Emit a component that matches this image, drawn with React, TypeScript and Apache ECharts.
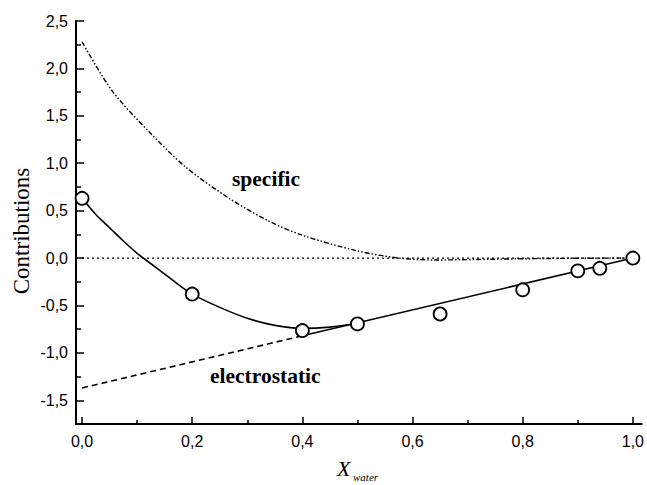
import React, { useEffect, useRef } from "react";
import * as echarts from "echarts";

// Measured points (total contribution)
const pointsX = [0.0, 0.2, 0.4, 0.5, 0.65, 0.8, 0.9, 0.94, 1.0];
const pointsY = [0.63, -0.38, -0.765, -0.695, -0.59, -0.335, -0.135, -0.108, 0.0];

// Fitted total curve (solid, curved part; joins the electrostatic line near 0.5)
const totalX = [0.0, 0.025, 0.05, 0.075, 0.1, 0.125, 0.15, 0.175, 0.2, 0.25, 0.3, 0.35, 0.4, 0.45, 0.5];
const totalY = [0.63, 0.46, 0.32, 0.18, 0.05, -0.06, -0.17, -0.28, -0.38, -0.52, -0.635, -0.71, -0.742, -0.728, -0.69];

// Electrostatic contribution (straight line), dashed part and solid part
const electroDashX = [0.0, 0.4];
const electroDashY = [-1.37, -0.82];
const electroSolidX = [0.4, 1.0];
const electroSolidY = [-0.82, 0.0];

// Specific contribution (dash-dot)
const specificX = [0.0, 0.055, 0.122, 0.188, 0.267, 0.339, 0.4, 0.5, 0.575, 0.64, 0.75, 0.85, 1.0];
const specificY = [2.28, 1.76, 1.33, 0.96, 0.63, 0.39, 0.24, 0.075, 0.0, -0.02, -0.012, -0.004, 0.0];

// Zero reference line
const zeroX = [0.0, 1.0];
const zeroY = [0.0, 0.0];

const xMajor = [0.0, 0.2, 0.4, 0.6, 0.8, 1.0];
const xMinor = [0.1, 0.3, 0.5, 0.7, 0.9];
const yMajor = [-1.5, -1.0, -0.5, 0.0, 0.5, 1.0, 1.5, 2.0, 2.5];
const yMinor = [-1.75, -1.25, -0.75, -0.25, 0.25, 0.75, 1.25, 1.75, 2.25];

const zip = (xs: number[], ys: number[]) => xs.map((x, i) => [x, ys[i]]);
const fmt = (v: number) => (Math.abs(v) < 1e-9 ? 0 : v).toFixed(1).replace(".", ",");

export default function App() {
  const ref = useRef<HTMLDivElement>(null);
  useEffect(() => {
    if (!ref.current) return;
    const chart = echarts.init(ref.current, undefined, { renderer: "svg" });
    const axisBase = {
      type: "value" as const,
      min: -0.011,
      max: 1.016,
      splitLine: { show: false },
    };
    const yBase = {
      type: "value" as const,
      min: -1.75,
      max: 2.5,
      splitLine: { show: false },
    };
    chart.setOption({
      animation: false,
      backgroundColor: "#ffffff",
      grid: { left: 76, top: 21, right: 4, bottom: 61, containLabel: false },
      xAxis: [
        {
          ...axisBase,
          position: "bottom",
          axisLine: { show: true, onZero: false, lineStyle: { color: "#000", width: 2 } },
          axisTick: { show: true, inside: true, length: 7, customValues: xMajor, lineStyle: { color: "#000", width: 1.5 } },
          axisLabel: {
            show: true,
            customValues: xMajor,
            formatter: (v: number) => fmt(v),
            color: "#000",
            fontFamily: "Liberation Sans",
            fontSize: 16,
            margin: 9,
          },
        },
        {
          ...axisBase,
          position: "bottom",
          offset: 0,
          axisLine: { show: false, onZero: false },
          axisTick: { show: true, inside: true, length: 4, customValues: xMinor, lineStyle: { color: "#000", width: 1.5 } },
          axisLabel: { show: false },
        },
      ],
      yAxis: [
        {
          ...yBase,
          position: "left",
          axisLine: { show: true, onZero: false, lineStyle: { color: "#000", width: 2 } },
          axisTick: { show: true, inside: true, length: 8, customValues: yMajor, lineStyle: { color: "#000", width: 1.5 } },
          axisLabel: {
            show: true,
            customValues: yMajor,
            formatter: (v: number) => fmt(v),
            color: "#000",
            fontFamily: "Liberation Sans",
            fontSize: 16,
            margin: 8,
          },
        },
        {
          ...yBase,
          position: "left",
          offset: 0,
          axisLine: { show: false, onZero: false },
          axisTick: { show: true, inside: true, length: 5, customValues: yMinor, lineStyle: { color: "#000", width: 1.5 } },
          axisLabel: { show: false },
        },
      ],
      series: [
        {
          type: "line",
          name: "zero",
          data: zip(zeroX, zeroY),
          symbol: "none",
          lineStyle: { color: "#000", width: 1.2, type: [2, 3] },
        },
        {
          type: "line",
          name: "specific",
          data: zip(specificX, specificY),
          smooth: 0.3,
          symbol: "none",
          lineStyle: { color: "#000", width: 1.4, type: [5, 2, 1.5, 2, 1.5, 2] },
        },
        {
          type: "line",
          name: "electrostatic dashed",
          data: zip(electroDashX, electroDashY),
          symbol: "none",
          lineStyle: { color: "#000", width: 1.6, type: [6, 4] },
        },
        {
          type: "line",
          name: "electrostatic solid",
          data: zip(electroSolidX, electroSolidY),
          symbol: "none",
          lineStyle: { color: "#000", width: 1.6 },
        },
        {
          type: "line",
          name: "total",
          data: zip(totalX, totalY),
          smooth: 0.3,
          symbol: "none",
          lineStyle: { color: "#000", width: 1.6 },
        },
        {
          type: "scatter",
          name: "points",
          data: zip(pointsX, pointsY),
          symbol: "circle",
          symbolSize: 13,
          z: 5,
          itemStyle: { color: "#fff", borderColor: "#000", borderWidth: 1.8, opacity: 1 },
        },
      ],
      graphic: [
        {
          type: "text",
          left: 232,
          top: 168,
          style: { text: "specific", font: "bold 21.5px 'Liberation Serif'", fill: "#000" },
        },
        {
          type: "text",
          left: 210,
          top: 365,
          style: { text: "electrostatic", font: "bold 21.5px 'Liberation Serif'", fill: "#000" },
        },
        {
          type: "text",
          x: 21,
          y: 231,
          rotation: Math.PI / 2,
          style: {
            text: "Contributions",
            font: "23px 'Liberation Serif'",
            fill: "#000",
            align: "center",
            verticalAlign: "middle",
          },
        },
        {
          type: "text",
          left: 337,
          top: 457,
          style: { text: "X", font: "italic 22px 'Liberation Serif'", fill: "#000" },
        },
        {
          type: "text",
          left: 353,
          top: 471,
          style: { text: "water", font: "italic 11px 'Liberation Serif'", fill: "#000" },
        },
      ],
    });
    return () => chart.dispose();
  }, []);
  return (
    <div
      ref={ref}
      style={{ position: "fixed", left: 0, top: 0, width: 647, height: 485, background: "#fff" }}
    />
  );
}
